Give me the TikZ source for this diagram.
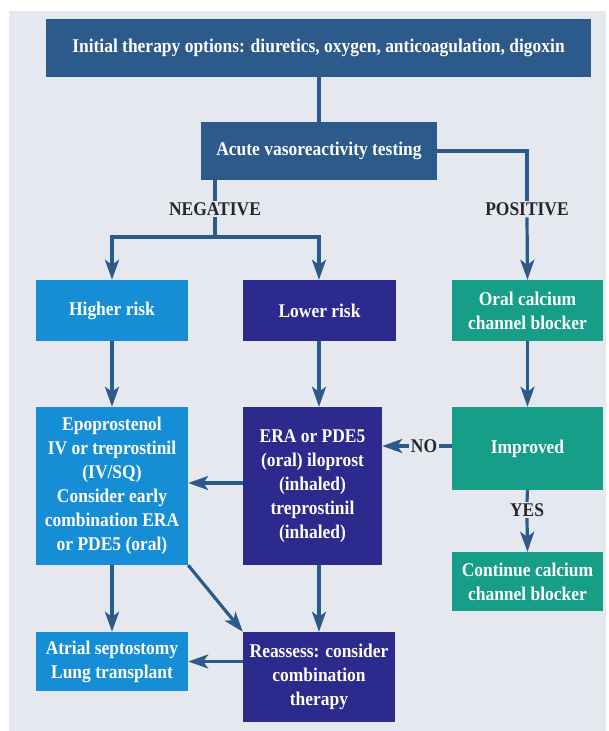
\documentclass[tikz,border=0pt]{standalone}
\usepackage{fontspec}
\setmainfont{Liberation Serif}[FakeStretch=0.9]
\usetikzlibrary{arrows.meta,calc}
\definecolor{steel}{RGB}{44,90,138}
\definecolor{brightblue}{RGB}{22,142,214}
\definecolor{indigo}{RGB}{44,42,140}
\definecolor{teal}{RGB}{22,158,136}
\definecolor{panelbg}{RGB}{230,232,240}
\definecolor{labeltext}{RGB}{38,38,42}
\tikzset{
  box/.style={draw=none, text=white, align=center, inner sep=0pt,
    font=\fontsize{19.4}{24}\selectfont\bfseries},
  steelbox/.style={box, fill=steel},
  hibox/.style={box, fill=brightblue},
  lobox/.style={box, fill=indigo},
  grbox/.style={box, fill=teal},
  lbl/.style={text=labeltext, fill=panelbg, inner sep=1.5pt,
    font=\fontsize{19.4}{20}\selectfont\bfseries},
  conn/.style={draw=steel, line width=3.2pt},
  arr/.style={conn, -{Stealth[length=20pt,width=14pt,inset=5pt]}},
}
\begin{document}
\begin{tikzpicture}[x=1pt,y=-1pt]
\fill[white] (0,0) rectangle (608,731);
\useasboundingbox (0,0) rectangle (608,731);
\fill[panelbg] (9,11) rectangle (606,731);

% nodes
\node[steelbox, minimum width=545pt, minimum height=58pt] (top) at (318.5,48)
  {Initial therapy options: diuretics, oxygen, anticoagulation, digoxin};
\node[steelbox, minimum width=236pt, minimum height=58pt] (acute) at (319,151)
  {Acute vasoreactivity testing};
\node[lbl] (neg) at (215,209) {NEGATIVE};
\node[lbl] (pos) at (527,209) {POSITIVE};

\node[hibox, minimum width=152pt, minimum height=61pt] (higher) at (112,310.5) {Higher risk};
\node[lobox, minimum width=153pt, minimum height=61pt] (lower) at (319.5,310.5) {Lower risk};
\node[grbox, minimum width=151pt, minimum height=61pt] (oral) at (527.5,310.5)
  {Oral calcium\\channel blocker};

\node[hibox, minimum width=152pt, minimum height=158pt] (epo) at (112,486)
  {Epoprostenol\\IV or treprostinil\\(IV/SQ)\\Consider early\\combination ERA\\or PDE5 (oral)};
\node[lobox, minimum width=139pt, minimum height=158pt] (era) at (312.5,486)
  {ERA or PDE5\\(oral) iloprost\\(inhaled)\\treprostinil\\(inhaled)};
\node[grbox, minimum width=151pt, minimum height=83pt] (improved) at (527.5,448.5) {Improved};
\node[lbl] (no) at (424,446) {NO};
\node[lbl] (yes) at (527,510) {YES};
\node[grbox, minimum width=151pt, minimum height=59pt] (cont) at (527.5,581.5)
  {Continue calcium\\channel blocker};

\node[hibox, minimum width=152pt, minimum height=59pt] (atrial) at (112,661.5)
  {Atrial septostomy\\Lung transplant};
\node[lobox, minimum width=152pt, minimum height=90pt] (reassess) at (319,677)
  {Reassess: consider\\combination\\therapy};

\coordinate (bar) at (215,237);
\coordinate (barL) at (112,237);
\coordinate (barR) at (319,237);

% connectors
\draw[conn] (top.south -| acute.north) -- (acute.north);
\draw[conn] (acute.east) -| (pos.north);
\draw[arr] (pos.south) -- (oral.north);
\draw[conn] (neg |- acute.south) -- (neg.north);
\draw[conn] (neg.south) -- (bar);
\draw[conn] ([xshift=-1.6pt]barL) -- ([xshift=1.6pt]barR);
\draw[arr] (barL) -- (higher.north);
\draw[arr] (barR) -- (barR |- lower.north);
\draw[arr] (higher.south) -- (epo.north);
\draw[arr] (barR |- lower.south) -- (barR |- era.north);
\draw[arr] (oral.south) -- (improved.north);
\draw[conn] (improved.west |- no) -- (no.east);
\draw[arr] (no.west) -- (era.east |- no);
\draw[conn] (improved.south) -- (yes.north);
\draw[arr] (yes.south) -- (cont.north);
\draw[arr] (era.west |- 0,483) -- (epo.east |- 0,483);
\draw[arr] (reassess.north |- era.south) -- (reassess.north);
\draw[arr] (epo.south) -- (atrial.north);
\draw[arr] (epo.south east) -- (reassess.north west);
\draw[arr] (reassess.west |- atrial.east) -- (atrial.east);
\end{tikzpicture}
\end{document}
